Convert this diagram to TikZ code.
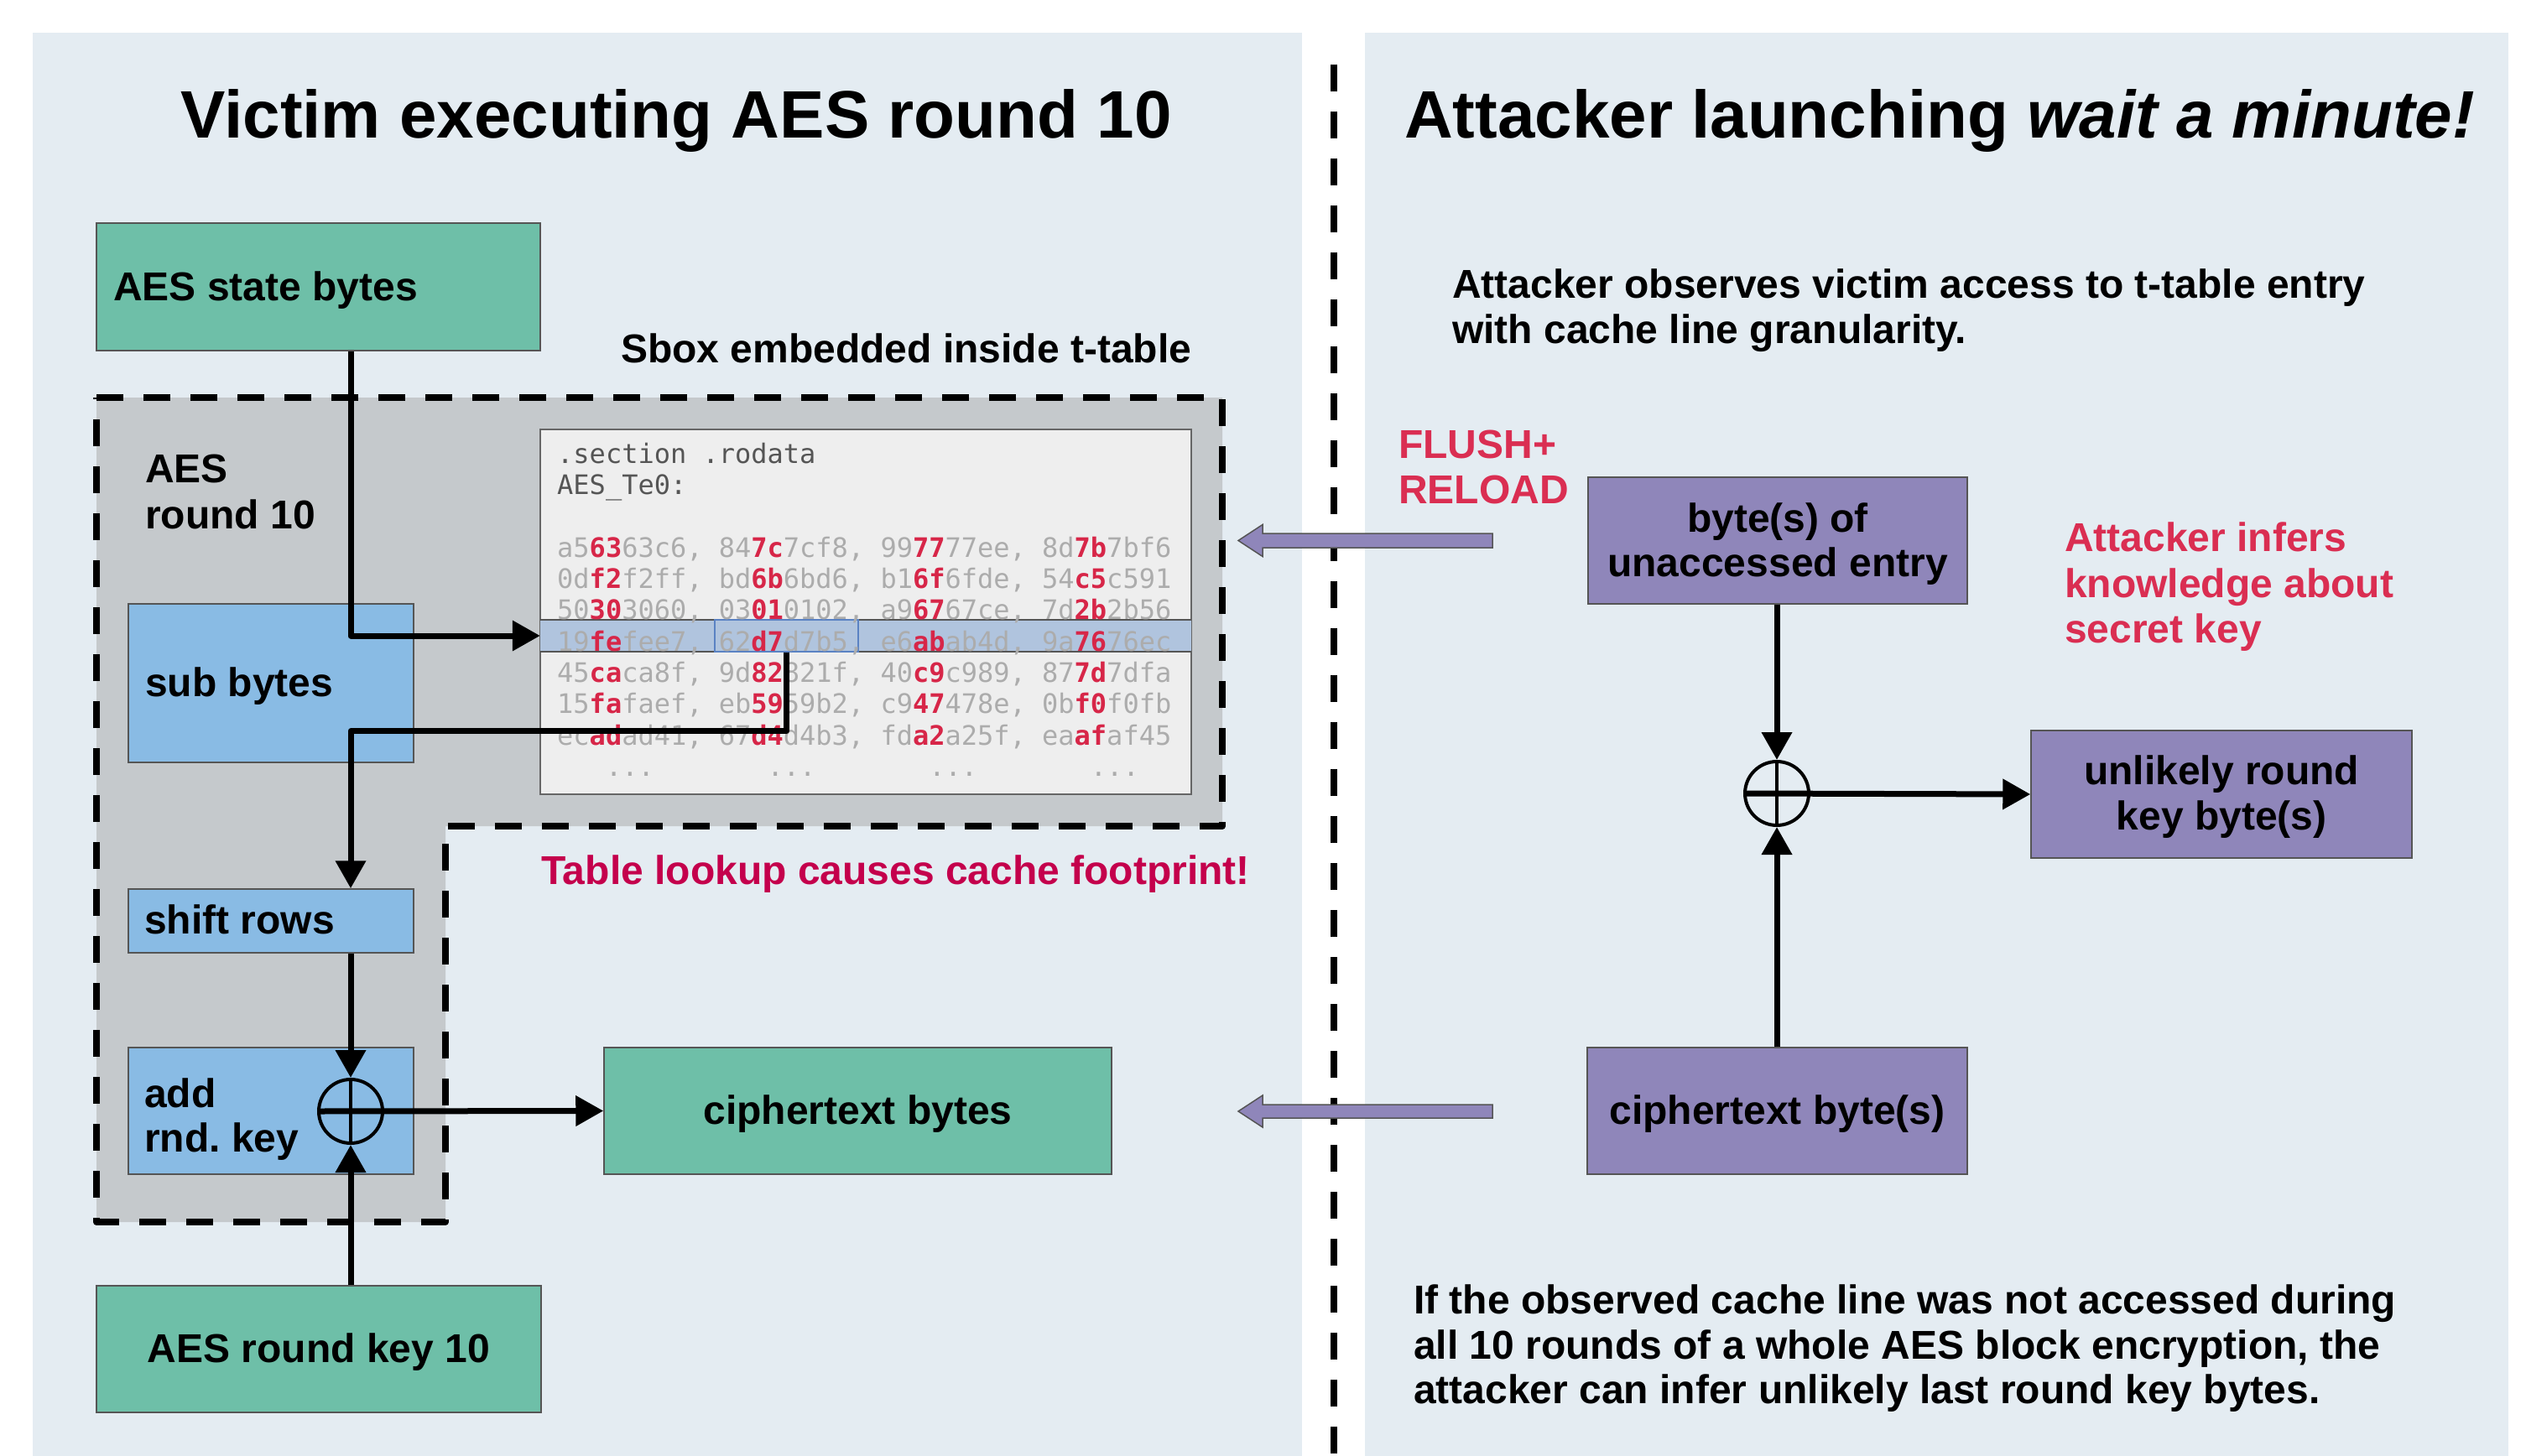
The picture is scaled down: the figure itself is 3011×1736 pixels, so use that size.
\documentclass[tikz,border=0pt]{standalone}
\usepackage{fontspec}
\setmainfont{Liberation Sans}
\newfontfamily\codefont{DejaVu Sans Mono}
\usetikzlibrary{arrows.meta}
\definecolor{panel}{RGB}{228,236,242}
\definecolor{regiongray}{RGB}{197,201,204}
\definecolor{cgreen}{RGB}{110,191,168}
\definecolor{cblue}{RGB}{137,187,228}
\definecolor{cpurple}{RGB}{143,134,186}
\definecolor{cborder}{RGB}{85,85,85}
\definecolor{codebg}{RGB}{238,238,238}
\definecolor{codegray}{RGB}{172,172,172}
\definecolor{codedark}{RGB}{85,85,85}
\definecolor{codered}{RGB}{215,38,72}
\definecolor{bandblue}{RGB}{176,196,222}
\definecolor{cellblue}{RGB}{90,130,195}
\definecolor{redA}{RGB}{218,46,82}
\definecolor{redB}{RGB}{196,0,76}
\newcommand{\hx}[1]{{\bfseries\color{codered}#1}}
\begin{document}
\begin{tikzpicture}[x=1pt,y=-1pt,
  boxbase/.style={draw=cborder, line width=1.5pt, inner sep=0pt, rectangle},
  greenbox/.style={boxbase, fill=cgreen},
  bluebox/.style={boxbase, fill=cblue},
  purplebox/.style={boxbase, fill=cpurple},
  txt/.style={anchor=base west, inner sep=0pt, font=\bfseries\fontsize{48}{55}\selectfont},
  ctxt/.style={anchor=base, inner sep=0pt, font=\bfseries\fontsize{48}{55}\selectfont},
  ttl/.style={anchor=base, inner sep=0pt, font=\bfseries\fontsize{80}{90}\selectfont},
  code/.style={anchor=base west, inner sep=0pt, font=\codefont\fontsize{32}{37.5}\selectfont, text=codegray},
  arr/.style={line width=7pt, line join=round, -{Triangle[length=33pt,width=35pt]}},
  xorc/.style={circle, draw=black, line width=4pt, minimum size=76pt, inner sep=0pt},
  dashline/.style={line width=8pt, dash pattern=on 32pt off 24pt},
  blockarrow/.style={fill=cpurple, draw=cborder, line width=1.5pt}
]
\fill[white] (0,0) rectangle (3011,1736);
\useasboundingbox (0,0) rectangle (3011,1736);

% panels
\fill[panel] (39,39) rectangle (1552,1736);
\fill[panel] (1627,39) rectangle (2990,1736);
\draw[dashline] (1590,77) -- (1590,1736);

% AES round 10 region
\filldraw[fill=regiongray, dashline, line join=round] (115,474) -- (1457,474) -- (1457,985) -- (531,985) -- (531,1457) -- (115,1457) -- cycle;

% victim boxes
\node[greenbox, minimum width=529pt, minimum height=152pt] (state) at (379.5,342) {};
\node[bluebox, minimum width=340pt, minimum height=189pt] (sub) at (323,814.5) {};
\node[bluebox, minimum width=340pt, minimum height=76pt] (shift) at (323,1098) {};
\node[bluebox, minimum width=340pt, minimum height=151pt] (add) at (323,1324.5) {};
\node[greenbox, minimum width=605pt, minimum height=151pt] (ct) at (1022.5,1324.5) {};
\node[greenbox, minimum width=530pt, minimum height=151pt] (rk) at (380,1608.5) {};

% code box
\node[draw=codedark!90, fill=codebg, line width=1.5pt, minimum width=776pt, minimum height=435pt, inner sep=0pt] (codebox) at (1032,729.5) {};
\node[fill=bandblue, draw=none, minimum width=776pt, minimum height=38pt, inner sep=0pt] (band) at (1032,758) {};
\draw[codedark, line width=1.5pt] (band.north west) -- (band.north east) (band.south west) -- (band.south east);
\node[draw=cellblue, line width=1.2pt, minimum width=171pt, minimum height=38pt, inner sep=0pt] (cell) at (937.5,758) {};

\node[code, text=codedark] (c1) at (664,552) {.section .rodata};
\node[code, text=codedark] (c2) at (664,589) {AES\_Te0:};
\node[code] (r1) at (664,664) {a5\hx{63}63c6, 84\hx{7c}7cf8, 99\hx{77}77ee, 8d\hx{7b}7bf6};
\node[code] (r2) at (664,701) {0d\hx{f2}f2ff, bd\hx{6b}6bd6, b1\hx{6f}6fde, 54\hx{c5}c591};
\node[code] (r3) at (664,738) {50\hx{30}3060, 03\hx{01}0102, a9\hx{67}67ce, 7d\hx{2b}2b56};
\node[code] (r4) at (664,776) {19\hx{fe}fee7, 62\hx{d7}d7b5, e6\hx{ab}ab4d, 9a\hx{76}76ec};
\node[code] (r5) at (664,813) {45\hx{ca}ca8f, 9d\hx{82}821f, 40\hx{c9}c989, 87\hx{7d}7dfa};
\node[code] (r6) at (664,850) {15\hx{fa}faef, eb\hx{59}59b2, c9\hx{47}478e, 0b\hx{f0}f0fb};
\node[code] (r7) at (664,888) {ec\hx{ad}ad41, 67\hx{d4}d4b3, fd\hx{a2}a25f, ea\hx{af}af45};
\node[code] (r8) at (664,925) {\phantom{xxx}...\phantom{xxxxxxx}...\phantom{xxxxxxx}...\phantom{xxxxxxx}...};

% xor nodes
\node[xorc] (xorL) at (418,1325) {};
\draw[line width=4pt] (xorL.north) -- (xorL.south);
\node[xorc] (xorR) at (2118,946) {};
\draw[line width=4pt] (xorR.north) -- (xorR.south);

% victim connectors
\draw[arr] (state.south -| xorL.center) |- (band.west);
\draw[arr] (cell.south) -- ++(0,94) -| (shift.north -| xorL.center);
\draw[arr] (shift.south -| xorL.center) -- (xorL.north);
\draw[arr] (rk.north -| xorL.center) -- (xorL.south);
\draw[arr] (xorL.west) -- (ct.west);

% attacker boxes
\node[purplebox, minimum width=452pt, minimum height=151pt] (bytebox) at (2119,644.5) {};
\node[purplebox, minimum width=454pt, minimum height=152pt] (unl) at (2648,947) {};
\node[purplebox, minimum width=453pt, minimum height=151pt] (ctb) at (2118.5,1324.5) {};

\draw[arr] (bytebox.south -| xorR.center) -- (xorR.north);
\draw[arr] (ctb.north -| xorR.center) -- (xorR.south);
\draw[arr] (xorR.west) -- (unl.west);

% purple block arrows
\filldraw[blockarrow] (1476,644.5) -- (1505,625.5) -- (1505,636) -- (1779,636) -- (1779,653) -- (1505,653) -- (1505,663.5) -- cycle;
\filldraw[blockarrow] (1476,1325) -- (1505,1306) -- (1505,1317) -- (1779,1317) -- (1779,1333) -- (1505,1333) -- (1505,1344) -- cycle;

% texts left
\node[ttl] (t1) at (806,165) {Victim executing AES round 10};
\node[txt] (tstate) at (135,358) {AES state bytes};
\node[txt] (tsbox) at (740,432) {Sbox embedded inside t-table};
\node[txt] (tr1) at (173,575) {AES};
\node[txt] (tr2) at (173,630) {round 10};
\node[txt] (tsub) at (173,830) {sub bytes};
\node[txt] (tshift) at (172,1113) {shift rows};
\node[txt] (tadd1) at (172,1320) {add};
\node[txt] (tadd2) at (172,1373) {rnd.\ key};
\node[txt, text=redB] (tlook) at (645,1054) {Table lookup causes cache footprint!};
\node[ctxt] (tct) at (1022.5,1340) {ciphertext bytes};
\node[ctxt] (trk) at (380,1624) {AES round key 10};

% texts right
\node[ttl] (t2) at (2312,165) {Attacker launching \textit{wait a minute!}};
\node[txt] (to1) at (1731,355) {Attacker observes victim access to t-table entry};
\node[txt] (to2) at (1731,409) {with cache line granularity.};
\node[txt, text=redA] (tf1) at (1667,546) {FLUSH+};
\node[txt, text=redA] (tf2) at (1667,600) {RELOAD};
\node[ctxt] (tb1) at (2119,634) {byte(s) of};
\node[ctxt] (tb2) at (2119,687) {unaccessed entry};
\node[txt, text=redA] (ti1) at (2461,657) {Attacker infers};
\node[txt, text=redA] (ti2) at (2461,712) {knowledge about};
\node[txt, text=redA] (ti3) at (2461,766) {secret key};
\node[ctxt] (tu1) at (2648,935) {unlikely round};
\node[ctxt] (tu2) at (2648,989) {key byte(s)};
\node[ctxt] (tcb) at (2118.5,1340) {ciphertext byte(s)};
\node[txt] (tp1) at (1685,1566) {If the observed cache line was not accessed during};
\node[txt] (tp2) at (1685,1620) {all 10 rounds of a whole AES block encryption, the};
\node[txt] (tp3) at (1685,1673) {attacker can infer unlikely last round key bytes.};
\end{tikzpicture}
\end{document}
